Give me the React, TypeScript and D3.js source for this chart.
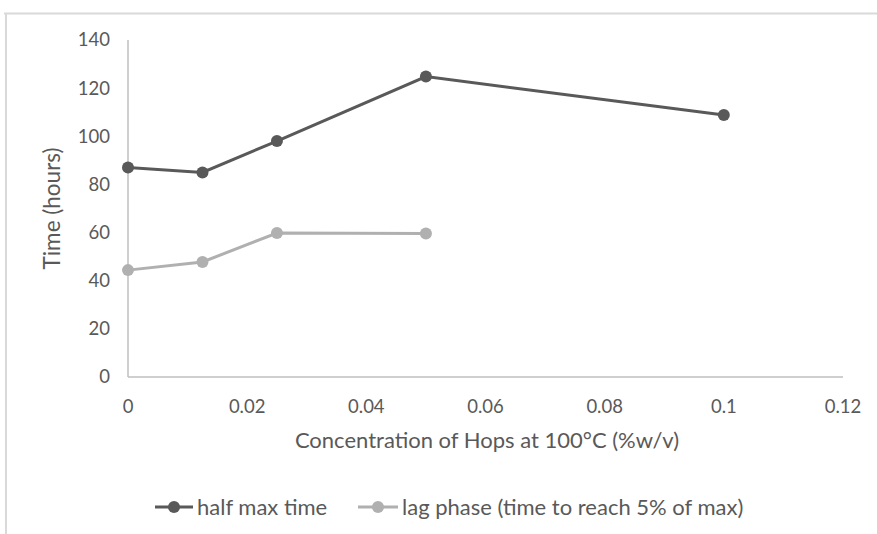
import React from "react";
import * as d3 from "d3";

const concentration = [0, 0.0125, 0.025, 0.05, 0.1];
const halfMaxTime = [87, 85, 98, 124.8, 108.8];
const lagConcentration = [0, 0.0125, 0.025, 0.05];
const lagPhase = [44.4, 47.8, 59.8, 59.6];
const xTicks = [0, 0.02, 0.04, 0.06, 0.08, 0.1, 0.12];
const yTicks = [0, 20, 40, 60, 80, 100, 120, 140];
const seriesNames = ["half max time", "lag phase (time to reach 5% of max)"];

const W = 877;
const H = 534;
const FONT = "Lato, 'Open Sans', sans-serif";
const DARK = "#595959";
const LIGHT = "#b0b0b0";
const TXT = "#595959";

export default function App() {
  const x = d3.scaleLinear().domain([0, 0.12]).range([128, 843]);
  const y = d3.scaleLinear().domain([0, 140]).range([377, 40]);
  const line = d3
    .line<[number, number]>()
    .x((d) => x(d[0]))
    .y((d) => y(d[1]));
  const s1: [number, number][] = concentration.map((c, i) => [c, halfMaxTime[i]]);
  const s2: [number, number][] = lagConcentration.map((c, i) => [c, lagPhase[i]]);

  return (
    <svg
      width={W}
      height={H}
      style={{ position: "absolute", left: 0, top: 0, background: "#fff" }}
      fontFamily={FONT}
    >
      <rect x={0} y={0} width={W} height={H} fill="#fff" />
      {/* outer frame */}
      <line x1={4} x2={W} y1={13.5} y2={13.5} stroke="#d9d9d9" strokeWidth={2} />
      <line x1={6} x2={6} y1={13} y2={H} stroke="#d9d9d9" strokeWidth={2} />

      {/* axes */}
      <line x1={x(0)} x2={x(0.12)} y1={y(0)} y2={y(0)} stroke="#bfbfbf" strokeWidth={1.5} />
      <line x1={x(0)} x2={x(0)} y1={y(0)} y2={y(140)} stroke="#bfbfbf" strokeWidth={1.5} />

      {yTicks.map((t) => (
        <text key={t} x={110} y={y(t)} dy="0.35em" textAnchor="end" fontSize={18.5} fill={TXT}>
          {t}
        </text>
      ))}
      {xTicks.map((t) => (
        <text key={t} x={x(t)} y={407} dy="0.35em" textAnchor="middle" fontSize={18.5} fill={TXT}>
          {d3.format("~g")(t)}
        </text>
      ))}

      <text x={487} y={440} dy="0.35em" textAnchor="middle" fontSize={22} fill={TXT}>
        Concentration of Hops at 100°C (%w/v)
      </text>
      <text
        transform={`translate(52,${(y(0) + y(140)) / 2}) rotate(-90)`}
        textAnchor="middle"
        dy="0.35em"
        fontSize={22.5}
        fill={TXT}
      >
        Time (hours)
      </text>

      {/* series */}
      <path d={line(s2) || ""} fill="none" stroke={LIGHT} strokeWidth={3} />
      {s2.map((d, i) => (
        <circle key={i} cx={x(d[0])} cy={y(d[1])} r={6} fill={LIGHT} />
      ))}
      <path d={line(s1) || ""} fill="none" stroke={DARK} strokeWidth={3} />
      {s1.map((d, i) => (
        <circle key={i} cx={x(d[0])} cy={y(d[1])} r={6} fill={DARK} />
      ))}

      {/* legend */}
      <g>
        <line x1={155} x2={193} y1={507} y2={507} stroke={DARK} strokeWidth={3} />
        <circle cx={174} cy={507} r={6} fill={DARK} />
        <text x={197} y={507} dy="0.35em" fontSize={22} fill={TXT}>
          {seriesNames[0]}
        </text>
        <line x1={358} x2={398} y1={507} y2={507} stroke={LIGHT} strokeWidth={3} />
        <circle cx={378} cy={507} r={6} fill={LIGHT} />
        <text x={402} y={507} dy="0.35em" fontSize={22} fill={TXT}>
          {seriesNames[1]}
        </text>
      </g>
    </svg>
  );
}
